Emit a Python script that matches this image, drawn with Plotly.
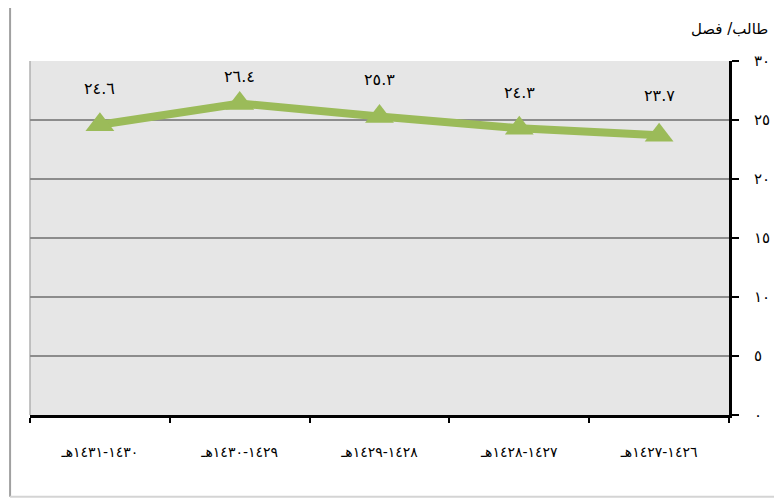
import plotly.graph_objects as go

# ---- data ----
categories = ["١٤٣٠-١٤٣١هـ", "١٤٢٩-١٤٣٠هـ", "١٤٢٨-١٤٢٩هـ", "١٤٢٧-١٤٢٨هـ", "١٤٢٦-١٤٢٧هـ"]
values = [24.6, 26.4, 25.3, 24.3, 23.7]
value_labels = ["٢٤.٦", "٢٦.٤", "٢٥.٣", "٢٤.٣", "٢٣.٧"]
y_tick_vals = [0, 5, 10, 15, 20, 25, 30]
y_tick_text = ["٠", "٥", "١٠", "١٥", "٢٠", "٢٥", "٣٠"]
unit_title = "طالب/ فصل"

# label offsets (pixels above the point)
label_shift = [36, 27, 37, 36, 40]

GREEN = "#9BBB59"

fig = go.Figure()
fig.add_trace(go.Scatter(
    x=categories, y=values, mode="lines+markers",
    line=dict(color=GREEN, width=8),
    marker=dict(symbol="triangle-up", size=25, color=GREEN),
    hoverinfo="skip", showlegend=False,
))

for c, v, t, s in zip(categories, values, value_labels, label_shift):
    fig.add_annotation(x=c, y=v, text=t, showarrow=False, yshift=s,
                       font=dict(family="DejaVu Sans, serif", size=16, color="black"))

fig.add_annotation(xref="paper", yref="paper", x=1.058, y=1.09, text=unit_title,
                   showarrow=False, xanchor="right", yanchor="middle",
                   font=dict(family="DejaVu Sans, Arial, sans-serif", size=15, color="black"))

# outer frame lines
fig.add_shape(type="line", xref="paper", yref="paper", x0=-0.0285, x1=1.1, y0=1.158, y1=1.158,
              line=dict(color="#a0a0a0", width=2))
fig.add_shape(type="line", xref="paper", yref="paper", x0=-0.0285, x1=-0.0285, y0=1.158, y1=-0.231,
              line=dict(color="#a0a0a0", width=2))
fig.add_shape(type="line", xref="paper", yref="paper", x0=-0.0285, x1=1.1, y0=-0.231, y1=-0.231,
              line=dict(color="#d4d4d4", width=2))
# plot-area left edge
fig.add_shape(type="line", xref="paper", yref="paper", x0=0, x1=0, y0=0, y1=1,
              line=dict(color="#b0b0b0", width=1.5), layer="below")

# page body has an 8px margin, so the figure is sized to fill the rest of the window
fig.update_layout(
    width=774, height=490,
    margin=dict(l=22, r=50, t=53, b=83),
    paper_bgcolor="white", plot_bgcolor="#e6e6e6",
    font=dict(family="DejaVu Sans, sans-serif", color="black"),
    xaxis=dict(
        type="category", tickson="boundaries", ticks="outside", ticklen=5,
        tickcolor="black", tickwidth=2, showline=True, linecolor="black", linewidth=3,
        showgrid=False, ticklabelstandoff=22,
        tickfont=dict(size=14, color="black"),
        range=[-0.5, 4.5],
    ),
    yaxis=dict(
        side="right", range=[0, 30], tickvals=y_tick_vals, ticktext=y_tick_text,
        ticks="outside", ticklen=7, tickcolor="black", tickwidth=2,
        showline=True, linecolor="black", linewidth=3,
        showgrid=True, gridcolor="#8c8c8c", gridwidth=1.5, zeroline=False,
        ticklabelstandoff=12, tickfont=dict(size=15, color="black"),
    ),
)

fig.write_html("out.html")
